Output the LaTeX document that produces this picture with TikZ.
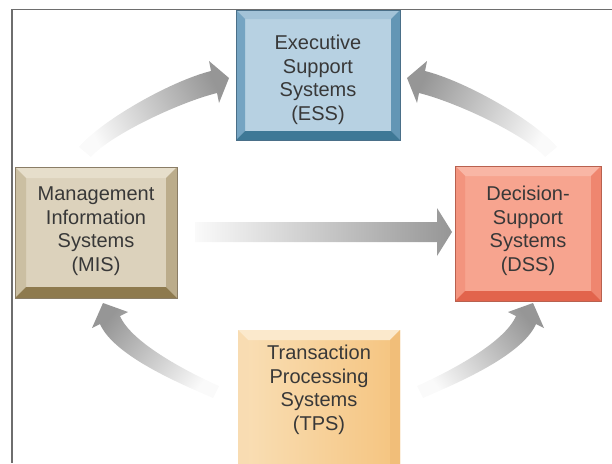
\documentclass[tikz,border=0pt]{standalone}
\usepackage{fontspec}
\setmainfont{Liberation Sans}
\usetikzlibrary{calc}

\definecolor{framegray}{HTML}{6E6E6E}
\definecolor{txtgray}{HTML}{383838}
\definecolor{arrhead}{HTML}{969696}
\definecolor{arrmid}{HTML}{C8C8C8}
\definecolor{arrtail}{HTML}{FAFAFA}
% executive support systems (blue)
\definecolor{essface}{HTML}{B7D1E2}
\definecolor{esstop}{HTML}{A3C3D8}
\definecolor{essleft}{HTML}{75A4C2}
\definecolor{essright}{HTML}{6396B5}
\definecolor{essbottom}{HTML}{3E7896}
\definecolor{essline}{HTML}{4A6F88}
% management information systems (tan)
\definecolor{misface}{HTML}{DCD2BC}
\definecolor{mistop}{HTML}{E6DECB}
\definecolor{misleft}{HTML}{CBBFA2}
\definecolor{misright}{HTML}{BBAC8B}
\definecolor{misbottom}{HTML}{8E7A4E}
\definecolor{misline}{HTML}{8A7D66}
% decision-support systems (salmon)
\definecolor{dssface}{HTML}{F7A48F}
\definecolor{dsstop}{HTML}{F9B6A5}
\definecolor{dssleft}{HTML}{F3947E}
\definecolor{dssright}{HTML}{EF866F}
\definecolor{dssbottom}{HTML}{E2644C}
\definecolor{dssline}{HTML}{B8614F}
% transaction processing systems (orange)
\definecolor{tpsfacel}{HTML}{F9DFB6}
\definecolor{tpsfacer}{HTML}{F5C47F}
\definecolor{tpstop}{HTML}{FBE9CC}
\definecolor{tpsleft}{HTML}{F8DCB2}
\definecolor{tpsright}{HTML}{F1BE79}
\definecolor{tpsbottom}{HTML}{E9A95C}

% bevelled frame around a box node: name, width, top, left, right, bottom colours
\newcommand\bevelframe[6]{%
  \fill[#3] (#1.north west) -- (#1.north east) -- ($(#1.north east)+(-#2,#2)$) -- ($(#1.north west)+(#2,#2)$) -- cycle;
  \fill[#4] (#1.north west) -- ($(#1.north west)+(#2,#2)$) -- ($(#1.south west)+(#2,-#2)$) -- (#1.south west) -- cycle;
  \fill[#5] (#1.north east) -- (#1.south east) -- ($(#1.south east)+(-#2,-#2)$) -- ($(#1.north east)+(-#2,#2)$) -- cycle;
  \fill[#6] (#1.south west) -- ($(#1.south west)+(#2,-#2)$) -- ($(#1.south east)+(-#2,-#2)$) -- (#1.south east) -- cycle;
}

\begin{document}
\begin{tikzpicture}[x=1pt,y=-1pt,
  boxbase/.style={inner sep=0pt, outer sep=0pt, anchor=north west},
  boxtext/.style={align=center, inner sep=0pt, text=txtgray,
    font=\fontsize{20}{23.5}\selectfont},
  flowarrow/.style={top color=arrhead, middle color=arrmid, bottom color=arrtail,
    shading angle=#1}]
\useasboundingbox (0,0) rectangle (612,463);
\clip (0,0) rectangle (612,463);

% page frame (top and left rules)
\draw[framegray, line width=1.6pt] (612,9.5) -- (12,9.5) -- (12,463);

% boxes
\node[boxbase, fill=essface, minimum width=164pt, minimum height=130pt] (essbox) at (236,10) {};
\bevelframe{essbox}{9}{esstop}{essleft}{essright}{essbottom}
\draw[essline, line width=0.7pt] (essbox.north west) rectangle (essbox.south east);

\node[boxbase, fill=misface, minimum width=162pt, minimum height=131pt] (misbox) at (15,167) {};
\bevelframe{misbox}{11}{mistop}{misleft}{misright}{misbottom}
\draw[misline, line width=0.6pt] (misbox.north west) rectangle (misbox.south east);

\node[boxbase, fill=dssface, minimum width=146pt, minimum height=135pt] (dssbox) at (455,166) {};
\bevelframe{dssbox}{10}{dsstop}{dssleft}{dssright}{dssbottom}
\draw[dssline, line width=0.6pt] (dssbox.north west) rectangle (dssbox.south east);

\node[boxbase, left color=tpsfacel, right color=tpsfacer, minimum width=162pt, minimum height=145pt] (tpsbox) at (238,330) {};
\bevelframe{tpsbox}{10}{tpstop}{tpsleft}{tpsright}{tpsbottom}

% labels
\node[boxtext] (ess) at (318,80) {Executive\\Support\\Systems\\(ESS)};
\node[boxtext] (mis) at (96,231) {Management\\Information\\Systems\\(MIS)};
\node[boxtext] (dss) at (528,231) {Decision-\\Support\\Systems\\(DSS)};
\node[boxtext] (tps) at (319,390) {Transaction\\Processing\\Systems\\(TPS)};

% MIS -> ESS
\shade[flowarrow=-63] (79,147) .. controls (102,120) and (171,81) .. (211,71)
  -- (209,61) -- (229,78) -- (219,103) -- (217,93)
  .. controls (177,103) and (109,136) .. (91,157) -- cycle;
% DSS -> ESS
\shade[flowarrow=63] (557,147) .. controls (534,120) and (465,81) .. (425,71)
  -- (427,61) -- (407,78) -- (417,103) -- (419,93)
  .. controls (459,103) and (527,136) .. (545,157) -- cycle;
% MIS -> DSS
\shade[flowarrow=-90] (195,222) -- (437,222) -- (437,208) -- (452,232)
  -- (437,256) -- (437,242) -- (195,242) -- cycle;
% TPS -> DSS
\shade[flowarrow=-52] (417,386) .. controls (444,374) and (504,344) .. (516,316)
  -- (508,312) -- (533,303) -- (544,328) -- (536,324)
  .. controls (522,356) and (455,384) .. (423,398) -- cycle;
% TPS -> MIS
\shade[flowarrow=52] (219,386) .. controls (192,374) and (132,344) .. (120,316)
  -- (128,312) -- (103,303) -- (92,328) -- (100,324)
  .. controls (114,356) and (181,384) .. (213,398) -- cycle;
\end{tikzpicture}
\end{document}
